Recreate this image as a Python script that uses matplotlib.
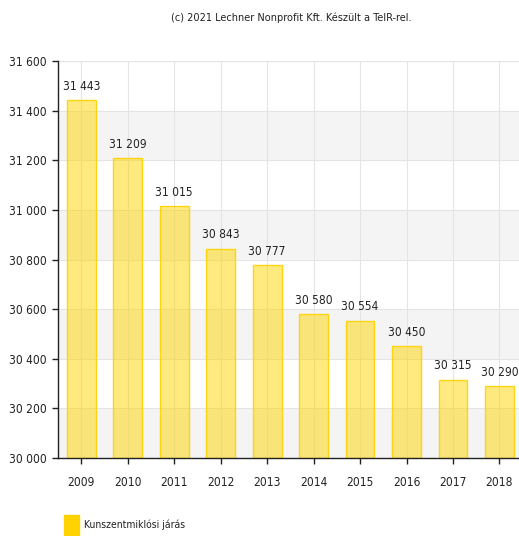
import matplotlib
matplotlib.use('Agg')
import matplotlib.pyplot as plt
from matplotlib.patches import Rectangle

years = ['2009', '2010', '2011', '2012', '2013', '2014', '2015', '2016', '2017', '2018']
values = [31443, 31209, 31015, 30843, 30777, 30580, 30554, 30450, 30315, 30290]
series_name = 'Kunszentmiklósi járás'
credit = '(c) 2021 Lechner Nonprofit Kft. Készült a TeIR-rel.'


def hu(n):
    return '{:,}'.format(int(n)).replace(',', ' ')


plt.rcParams['font.family'] = ['DejaVu Sans Condensed', 'DejaVu Sans']
plt.rcParams['font.stretch'] = 'condensed'

fig = plt.figure(figsize=(5.19, 5.36), dpi=100)
ax = fig.add_axes([0.112, 0.1455, 0.895, 0.7405])

ymin, ymax = 30000, 31600
ax.set_ylim(ymin, ymax)
ax.set_xlim(-0.5, len(years) - 0.5)

# alternating bands
for lo in range(ymin, ymax, 400):
    ax.axhspan(lo, lo + 200, color='#f4f4f4', zorder=0, lw=0)
for y in range(ymin, ymax + 1, 200):
    ax.axhline(y, color='#e4e4e4', lw=0.8, zorder=0.5)
for i in range(len(years)):
    ax.axvline(i, color='#e4e4e4', lw=0.8, zorder=0.5)

x = list(range(len(years)))
bars = ax.bar(x, [v - ymin for v in values], bottom=ymin, width=0.62,
              color=(1.0, 0.84, 0.0, 0.5), edgecolor=(1.0, 0.82, 0.0, 0.9),
              linewidth=1.0, zorder=2)
for xi, v in zip(x, values):
    ax.text(xi, v + 30, hu(v), ha='center', va='bottom', fontsize=8.6, color='#222222')

ax.set_xticks(x)
ax.set_xticklabels(years, fontsize=8.6)
ax.set_yticks(range(ymin, ymax + 1, 200))
ax.set_yticklabels([hu(t) for t in range(ymin, ymax + 1, 200)], fontsize=8.6)
ax.tick_params(axis='both', direction='out', length=4, width=1, colors='#222222', pad=4)
ax.tick_params(axis='x', pad=9)
for s in ['top', 'right']:
    ax.spines[s].set_visible(False)
for s in ['left', 'bottom']:
    ax.spines[s].set_color('#222222')
    ax.spines[s].set_linewidth(1)

fig.text(0.561, 0.967, credit, ha='center', va='center', fontsize=7.8, color='#222222')

fig.patches.append(Rectangle((64 / 519, 1 - 536 / 536), 15 / 519, 21 / 536,
                             transform=fig.transFigure, color='#ffd200', figure=fig))
fig.text(84 / 519, 1 - 525 / 536, series_name, ha='left', va='center', fontsize=7.5, color='#222222')

fig.savefig('out.png', dpi=100)
